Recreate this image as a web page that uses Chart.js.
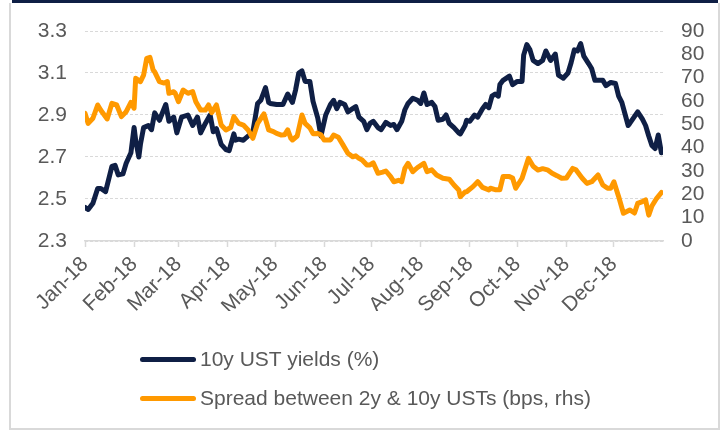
<!DOCTYPE html>
<html>
<head>
<meta charset="utf-8">
<script src="https://cdn.jsdelivr.net/npm/chart.js@4.4.1/dist/chart.umd.min.js"></script>
<style>
    html, body { margin: 0; padding: 0; background: #fff; }
    #wrap { position: relative; width: 725px; height: 432px; overflow: hidden; font-family: "Liberation Sans", Arial, sans-serif; }
    #chart { position: absolute; left: 0; top: 0; }
    .topBand { position: absolute; left: 12px; top: 0; width: 706px; height: 3px; background: #0f1f45; }
    .frame { position: absolute; left: 9px; top: 3px; width: 707px; height: 425px; border: 2px solid #d9d9d9; border-top: none; pointer-events: none; }
    #legend { position: absolute; left: 140px; top: 346px; }
    .item { display: flex; align-items: center; height: 26px; margin-bottom: 13px; font-size: 21px; color: #595959; white-space: nowrap; }
    .swatch { width: 56px; height: 5px; border-radius: 3px; margin-right: 4px; }
</style>
</head>
<body>
<div id="wrap">
    <canvas id="chart" width="725" height="432"></canvas>
    <div class="topBand"></div>
    <div class="frame"></div>
    <div id="legend"></div>
</div>
<script>
// month starts as day-of-year (2018)
const monthDays = [0, 31, 59, 90, 120, 151, 181, 212, 243, 273, 304, 334];
const monthLabels = ["Jan-18", "Feb-18", "Mar-18", "Apr-18", "May-18", "Jun-18",
    "Jul-18", "Aug-18", "Sep-18", "Oct-18", "Nov-18", "Dec-18"];
const leftTicks = [2.3, 2.5, 2.7, 2.9, 3.1, 3.3];
const rightTicks = [0, 10, 20, 30, 40, 50, 60, 70, 80, 90];

const seriesLabels = ["10y UST yields (%)", "Spread between 2y & 10y USTs (bps, rhs)"];
const seriesColors = ["#0f1f45", "#ff9900"];

// 10y yield (day of year, %)
const yieldDays = [0, 2, 5, 8, 10, 13, 17, 19, 21, 24, 26, 29, 31, 32, 34, 35, 37, 40, 42, 44,
    47, 51, 53, 56, 58, 61, 65, 68, 71, 73, 76, 79, 81, 83, 86, 89, 91, 94, 95, 97,
    100, 103, 106, 109, 111, 114, 116, 117, 121, 125, 128, 131, 133, 135, 137, 139, 142, 144, 147, 149,
    152, 155, 157, 159, 161, 164, 166, 169, 171, 173, 176, 178, 180, 182, 185, 187, 190, 193, 195, 197,
    200, 202, 204, 207, 210, 212, 214, 216, 219, 221, 223, 226, 228, 230, 233, 236, 237, 240, 241, 243,
    246, 248, 251, 253, 255, 257, 259, 261, 262, 264, 268, 270, 273, 276, 277, 279, 281, 283, 286, 289,
    291, 294, 297, 299, 302, 305, 307, 309, 311, 313, 315, 318, 320, 322, 327, 329, 332, 335, 337, 339,
    343, 344, 349, 352, 354, 356, 358, 360, 362, 364];
const yieldValues = [2.46, 2.45, 2.48, 2.55, 2.55, 2.535, 2.655, 2.66, 2.615, 2.62, 2.67, 2.72, 2.84, 2.78, 2.70, 2.76, 2.84, 2.85, 2.83, 2.91,
    2.875, 2.95, 2.87, 2.89, 2.815, 2.89, 2.90, 2.85, 2.89, 2.815, 2.86, 2.90, 2.82, 2.835, 2.76, 2.735, 2.73, 2.81, 2.78, 2.785,
    2.78, 2.80, 2.82, 2.955, 2.97, 3.03, 2.96, 2.955, 2.95, 2.95, 3.00, 2.96, 3.02, 3.10, 3.11, 3.06, 3.06, 2.965, 2.885, 2.80,
    2.90, 2.95, 2.97, 2.93, 2.96, 2.95, 2.915, 2.93, 2.94, 2.89, 2.87, 2.83, 2.86, 2.87, 2.84, 2.83, 2.865, 2.85, 2.855, 2.83,
    2.87, 2.925, 2.955, 2.98, 2.97, 2.955, 3.005, 2.95, 2.96, 2.94, 2.875, 2.88, 2.90, 2.86, 2.84, 2.815, 2.81, 2.85, 2.875, 2.87,
    2.90, 2.89, 2.93, 2.95, 2.935, 2.99, 3.00, 2.99, 3.045, 3.065, 3.085, 3.045, 3.06, 3.06, 3.185, 3.235, 3.21, 3.16, 3.145, 3.16,
    3.205, 3.16, 3.19, 3.09, 3.075, 3.10, 3.15, 3.21, 3.205, 3.24, 3.18, 3.145, 3.12, 3.065, 3.065, 3.04, 3.055, 3.05, 2.99, 2.96,
    2.85, 2.86, 2.915, 2.88, 2.85, 2.80, 2.755, 2.74, 2.805, 2.72];

// 2y-10y spread (day of year, bps)
const spreadDays = [0, 2, 5, 8, 10, 14, 17, 20, 23, 26, 29, 31, 32, 35, 37, 39, 41, 43, 44, 47,
    50, 52, 53, 56, 57, 59, 62, 65, 68, 70, 73, 76, 78, 80, 83, 86, 89, 92, 94, 97,
    100, 103, 106, 109, 113, 116, 119, 121, 124, 126, 128, 130, 131, 134, 137, 139, 142, 144, 147, 149,
    151, 155, 157, 160, 163, 166, 169, 171, 173, 175, 178, 180, 182, 185, 188, 190, 193, 195, 198, 200,
    202, 204, 207, 210, 214, 216, 219, 222, 226, 230, 233, 236, 237, 240, 241, 245, 248, 251, 255, 256,
    259, 262, 264, 268, 270, 272, 276, 280, 283, 286, 289, 292, 295, 298, 301, 304, 308, 310, 314, 317,
    320, 324, 327, 330, 332, 334, 337, 340, 344, 347, 349, 352, 354, 356, 358, 361, 364];
const spreadValues = [54.7, 50.4, 52.6, 58.3, 56, 52.3, 59, 58.3, 53.3, 55.4, 59.4, 56.9, 69.7, 68.3, 71.1, 78.3, 78.7, 73.3, 72.5, 68.3,
    67.7, 68.3, 63.3, 64, 63.3, 59.7, 64.7, 63.3, 64, 59.7, 56.1, 56.1, 58.3, 55, 58.3, 49.7, 47.6, 48.6, 53.3, 50.4,
    49.7, 47.6, 44, 50.4, 54.5, 47.6, 46.9, 46.1, 45.4, 45.5, 47.6, 44, 43.3, 45, 54, 50.4, 48.5, 46, 46.1, 45.5,
    43.3, 43.3, 45.4, 44.5, 41.1, 37.6, 36.1, 36.5, 35.4, 34.7, 32.6, 32.6, 33.5, 29, 29.5, 30, 27.6, 25.4, 26, 25.4,
    31.1, 33.3, 29.7, 31.5, 33.3, 29.7, 30.5, 28.3, 26.9, 26.5, 24, 21.9, 19, 21, 21.1, 23.3, 25.4, 23, 21.9, 22.6,
    22, 22, 27.6, 27.6, 27, 22.6, 26.9, 35.4, 32, 30.4, 31, 30.5, 29, 28, 26.9, 27, 31.1, 30.5, 26.9, 24.7,
    25.4, 28.3, 24, 22.6, 22.6, 25.4, 19, 11.9, 13.3, 12, 16.1, 16.9, 17.6, 11.1, 15, 18.3, 20.8];

const tickFont = { family: "'Liberation Sans', Arial, sans-serif", size: 21 };
const tickColor = "#595959";
const gridColor = "#d9d9d9";

function toPoints(days, values) {
    const pts = [];
    for (let i = 0; i < days.length; i++) {
        pts.push({ x: days[i], y: values[i] });
    }
    return pts;
}

const chart = new Chart(document.getElementById("chart"), {
    type: "line",
    data: {
        datasets: [
            {
                label: seriesLabels[0],
                data: toPoints(yieldDays, yieldValues),
                yAxisID: "y",
                borderColor: seriesColors[0],
                borderWidth: 5,
                pointRadius: 0,
                tension: 0,
                borderJoinStyle: "round",
                borderCapStyle: "round",
                order: 2
            },
            {
                label: seriesLabels[1],
                data: toPoints(spreadDays, spreadValues),
                yAxisID: "y1",
                borderColor: seriesColors[1],
                borderWidth: 5,
                pointRadius: 0,
                tension: 0,
                borderJoinStyle: "round",
                borderCapStyle: "round",
                order: 1
            }
        ]
    },
    options: {
        responsive: false,
        animation: false,
        events: [],
        layout: { padding: { left: 0, right: 0, top: 31, bottom: 121 } },
        plugins: {
            legend: { display: false },
            tooltip: { enabled: false }
        },
        scales: {
            x: {
                type: "linear",
                min: 0,
                max: 365,
                afterBuildTicks: function (scale) {
                    scale.ticks = monthDays.map(function (d) { return { value: d }; });
                },
                afterFit: function (scale) { scale.height = 70; },
                ticks: {
                    autoSkip: false,
                    maxRotation: 45,
                    minRotation: 45,
                    padding: 5,
                    font: tickFont,
                    color: tickColor,
                    callback: function (value) {
                        const idx = monthDays.indexOf(value);
                        return idx >= 0 ? monthLabels[idx] : "";
                    }
                },
                grid: {
                    drawOnChartArea: false,
                    drawTicks: true,
                    tickLength: 6,
                    tickColor: gridColor,
                    tickWidth: 1.5
                },
                border: { display: true, color: gridColor, width: 1.5 }
            },
            y: {
                position: "left",
                min: 2.3,
                max: 3.3,
                afterBuildTicks: function (scale) {
                    scale.ticks = leftTicks.map(function (v) { return { value: v }; });
                },
                afterFit: function (scale) { scale.width = 85; },
                ticks: {
                    autoSkip: false,
                    padding: 18,
                    font: tickFont,
                    color: tickColor,
                    callback: function (value) { return value.toFixed(1); }
                },
                grid: { color: gridColor, lineWidth: 1, drawTicks: false },
                border: { display: false, dash: [3, 2] }
            },
            y1: {
                position: "right",
                min: 0,
                max: 90,
                afterBuildTicks: function (scale) {
                    scale.ticks = rightTicks.map(function (v) { return { value: v }; });
                },
                afterFit: function (scale) { scale.width = 62; },
                ticks: {
                    autoSkip: false,
                    padding: 18,
                    font: tickFont,
                    color: tickColor
                },
                grid: { drawOnChartArea: false, drawTicks: false },
                border: { display: false }
            }
        }
    }
});

// legend as plain text rows, built from the dataset labels
const legendBox = document.getElementById("legend");
for (let i = 0; i < seriesLabels.length; i++) {
    const row = document.createElement("div");
    row.className = "item";
    const sw = document.createElement("span");
    sw.className = "swatch";
    sw.style.background = seriesColors[i];
    const txt = document.createElement("span");
    txt.textContent = seriesLabels[i];
    row.appendChild(sw);
    row.appendChild(txt);
    legendBox.appendChild(row);
}
</script>
</body>
</html>
